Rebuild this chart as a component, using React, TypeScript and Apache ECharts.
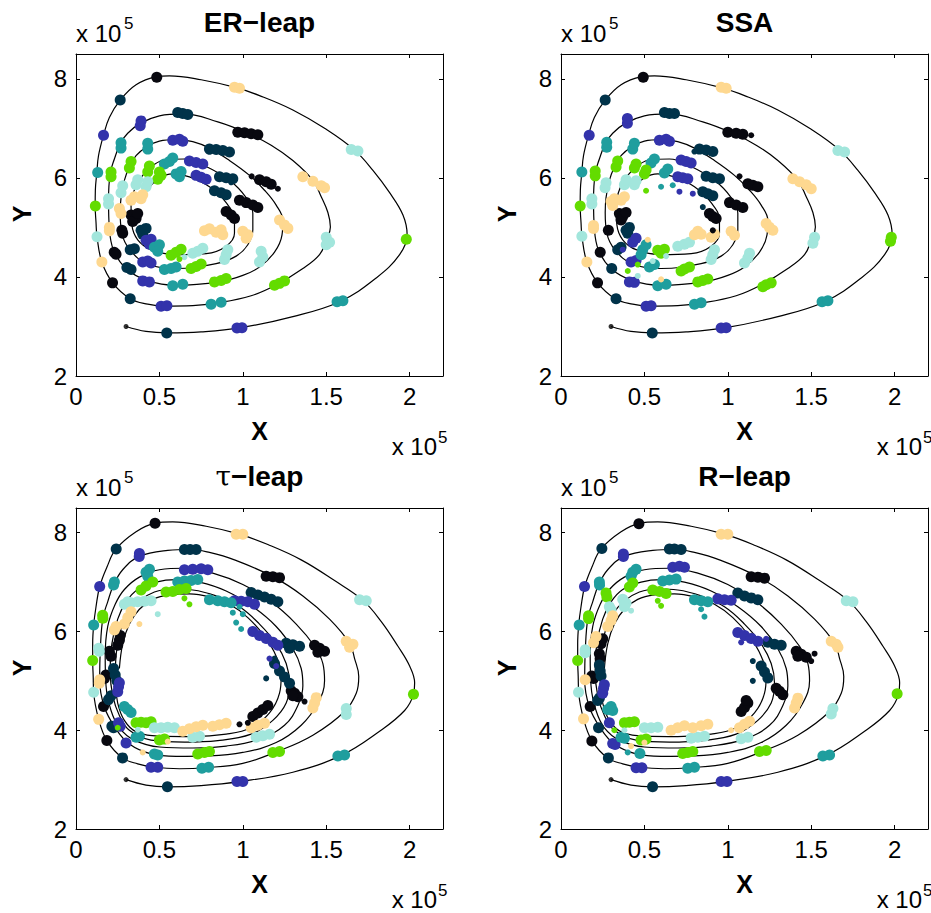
import React, { useEffect, useRef } from "react";
import * as echarts from "echarts";

// ---------- shared style constants ----------
const FONT = "'Liberation Sans', Arial, Helvetica, sans-serif";
const PALETTE = ["#08080f", "#00334a", "#3333ab", "#1f9e9e", "#63dc00", "#a2e6dc", "#fed890"];

// ---------- axis ticks ----------
const xTicks = [0, 0.5, 1, 1.5, 2];
const yTicks = [2, 4, 6, 8];
const xRange = [0, 2.2];
const yRange = [2, 8.5];

// ---------- start point of the trajectories ----------
const startPoint = [0.3, 3.0];

// ---------- deterministic spiral (ER-leap / SSA panels) ----------
const spiralTop = [
  [0.30, 3.00], [0.42, 2.90], [0.55, 2.87], [0.75, 2.89], [0.98, 2.97], [1.30, 3.20], [1.58, 3.50], [1.80, 3.98], [1.94, 4.45], [1.985, 4.85], [1.96, 5.25], [1.88, 5.70], [1.78, 6.15], [1.67, 6.56], [1.50, 6.98], [1.30, 7.37], [1.10, 7.66], [0.96, 7.82], [0.75, 7.98], [0.56, 8.06], [0.48, 8.04], [0.36, 7.88], [0.265, 7.57], [0.20, 7.22], [0.165, 6.86], [0.135, 6.45], [0.125, 6.11], [0.116, 5.75], [0.115, 5.43], [0.12, 5.10], [0.126, 4.81], [0.155, 4.30], [0.22, 3.88], [0.325, 3.56], [0.43, 3.45],
  [0.53, 3.41], [0.70, 3.42], [0.84, 3.47], [1.05, 3.62], [1.20, 3.84], [1.36, 4.17], [1.46, 4.45], [1.50, 4.74], [1.525, 5.01], [1.51, 5.30], [1.47, 5.62], [1.42, 5.95], [1.30, 6.35], [1.17, 6.66], [1.03, 6.90], [0.85, 7.13], [0.64, 7.29], [0.50, 7.25], [0.385, 7.10], [0.31, 6.90], [0.265, 6.69], [0.23, 6.38], [0.205, 6.09], [0.195, 5.55], [0.20, 4.98], [0.225, 4.54], [0.30, 4.17], [0.425, 3.93],
  [0.60, 3.83], [0.86, 3.90], [1.00, 4.03], [1.10, 4.20], [1.19, 4.50], [1.235, 4.85], [1.24, 5.14], [1.20, 5.45], [1.13, 5.75], [1.04, 6.05], [0.92, 6.35], [0.80, 6.60], [0.70, 6.73], [0.60, 6.77], [0.50, 6.74], [0.425, 6.63], [0.36, 6.45], [0.32, 6.22], [0.29, 5.95], [0.27, 5.60], [0.265, 5.30], [0.275, 4.88], [0.325, 4.54], [0.425, 4.27],
  [0.60, 4.17], [0.84, 4.27], [0.96, 4.42], [1.03, 4.65], [1.06, 4.95], [1.06, 5.28], [1.02, 5.60], [0.92, 5.95], [0.78, 6.23], [0.65, 6.38], [0.54, 6.37], [0.46, 6.25], [0.40, 6.05], [0.355, 5.80], [0.33, 5.45], [0.335, 5.05], [0.37, 4.75], [0.45, 4.55],
  [0.60, 4.45], [0.78, 4.47], [0.90, 4.62], [0.95, 4.88], [0.95, 5.15], [0.90, 5.50], [0.80, 5.82], [0.68, 6.02], [0.58, 6.08], [0.50, 6.00], [0.44, 5.80],
];

// ---------- deterministic spiral (tau-leap / R-leap panels) ----------
const spiralBottom = [
  [0.30, 3.00], [0.42, 2.89], [0.55, 2.855], [0.75, 2.88], [0.98, 2.96], [1.30, 3.15], [1.59, 3.49], [1.82, 3.98], [1.97, 4.40], [2.023, 4.73], [2.03, 4.96], [2.00, 5.30], [1.93, 5.70], [1.83, 6.20], [1.72, 6.63], [1.55, 7.03], [1.35, 7.45], [1.15, 7.76], [0.98, 7.97], [0.78, 8.13], [0.58, 8.22], [0.47, 8.19], [0.36, 8.02], [0.24, 7.67], [0.185, 7.30], [0.142, 6.91], [0.12, 6.50], [0.106, 6.13], [0.10, 5.75], [0.10, 5.41], [0.103, 5.10], [0.106, 4.77], [0.136, 4.22], [0.185, 3.79], [0.279, 3.44], [0.37, 3.32],
  [0.47, 3.25], [0.62, 3.22], [0.774, 3.24], [1.00, 3.33], [1.20, 3.56], [1.42, 3.90], [1.61, 4.38], [1.68, 4.75], [1.695, 5.09], [1.67, 5.45], [1.64, 5.76], [1.52, 6.25], [1.36, 6.72], [1.18, 7.11], [0.95, 7.45], [0.80, 7.60], [0.684, 7.66], [0.55, 7.64], [0.379, 7.52], [0.28, 7.25], [0.225, 6.94], [0.19, 6.60], [0.161, 6.27], [0.146, 5.64], [0.142, 5.02], [0.169, 4.48], [0.235, 4.05], [0.32, 3.72],
  [0.45, 3.52], [0.60, 3.47], [0.80, 3.48], [1.00, 3.55], [1.20, 3.75], [1.35, 4.10], [1.45, 4.55], [1.49, 5.00], [1.48, 5.35], [1.43, 5.70], [1.32, 6.15], [1.17, 6.60], [1.00, 6.95], [0.82, 7.18], [0.65, 7.28], [0.50, 7.25], [0.38, 7.10], [0.29, 6.85], [0.235, 6.55], [0.19, 6.10], [0.175, 5.50], [0.18, 4.90], [0.21, 4.40], [0.26, 4.05], [0.35, 3.80],
  [0.50, 3.66], [0.70, 3.64], [0.90, 3.68], [1.10, 3.82], [1.25, 4.10], [1.33, 4.50], [1.36, 4.90], [1.35, 5.25], [1.30, 5.65], [1.20, 6.10], [1.06, 6.50], [0.90, 6.82], [0.74, 7.00], [0.60, 7.05], [0.48, 7.00], [0.37, 6.85], [0.30, 6.60], [0.25, 6.25], [0.215, 5.75], [0.205, 5.20], [0.22, 4.70], [0.26, 4.30], [0.32, 4.00],
  [0.45, 3.80], [0.65, 3.76], [0.85, 3.79], [1.05, 3.92], [1.18, 4.20], [1.26, 4.55], [1.28, 4.95], [1.26, 5.35], [1.20, 5.75], [1.10, 6.15], [0.98, 6.50], [0.84, 6.72], [0.70, 6.84], [0.58, 6.86], [0.47, 6.80], [0.38, 6.62], [0.31, 6.35], [0.265, 6.00], [0.24, 5.50], [0.235, 5.00], [0.25, 4.55], [0.29, 4.20], [0.36, 3.97],
  [0.50, 3.88], [0.70, 3.87], [0.90, 3.92], [1.05, 4.05], [1.16, 4.35], [1.22, 4.75], [1.23, 5.10], [1.20, 5.50], [1.13, 5.90], [1.03, 6.28], [0.92, 6.55], [0.80, 6.70], [0.68, 6.76], [0.56, 6.74], [0.46, 6.65], [0.38, 6.45], [0.32, 6.15], [0.28, 5.75], [0.26, 5.25],
];

// ---------- ER-leap clusters ----------
const erBlack = [[0.484, 8.03], [0.219, 3.88], [0.97, 6.92], [1.01, 6.91], [1.05, 6.89], [1.09, 6.87], [0.229, 4.50], [0.24, 4.46], [1.10, 5.96], [1.14, 5.92], [1.17, 5.87], [0.275, 4.94], [0.28, 4.88], [0.98, 5.55], [1.02, 5.50], [1.06, 5.45], [1.09, 5.40], [0.33, 5.25], [0.36, 5.18], [0.34, 5.12], [0.37, 5.28], [0.90, 5.32], [0.93, 5.25], [0.95, 5.18]];
const erNavy = [[0.544, 2.87], [0.265, 7.57], [0.325, 3.56], [0.61, 7.32], [0.64, 7.30], [0.67, 7.28], [0.305, 4.19], [0.33, 4.15], [0.80, 6.58], [0.84, 6.57], [0.88, 6.55], [0.92, 6.52], [0.325, 4.55], [0.35, 4.57], [0.86, 6.02], [0.90, 6.00], [0.94, 5.98], [0.39, 4.94], [0.42, 4.98], [0.40, 4.86], [0.83, 5.74], [0.87, 5.70], [0.90, 5.66]];
const erIndigo = [[0.965, 2.97], [0.995, 2.975], [0.165, 6.86], [0.51, 3.41], [0.545, 3.42], [0.385, 7.05], [0.39, 7.15], [0.40, 3.92], [0.44, 3.90], [0.58, 6.76], [0.62, 6.78], [0.64, 6.74], [0.40, 4.30], [0.43, 4.32], [0.45, 4.28], [0.68, 6.34], [0.72, 6.31], [0.76, 6.28], [0.42, 4.74], [0.45, 4.76], [0.44, 4.66], [0.72, 6.05], [0.75, 6.01], [0.78, 5.97]];
const erTeal = [[1.565, 3.50], [1.60, 3.52], [0.13, 6.11], [0.81, 3.45], [0.87, 3.49], [0.27, 6.60], [0.27, 6.71], [0.58, 3.82], [0.64, 3.85], [0.43, 6.58], [0.43, 6.70], [0.53, 4.15], [0.57, 4.17], [0.60, 4.20], [0.53, 6.28], [0.56, 6.33], [0.58, 6.40], [0.47, 4.60], [0.50, 4.65], [0.49, 4.52], [0.60, 6.08], [0.63, 6.13], [0.62, 6.02]];
const erGreen = [[1.98, 4.76], [0.116, 5.43], [1.19, 3.83], [1.22, 3.87], [1.25, 3.92], [0.21, 6.02], [0.21, 6.12], [0.83, 3.90], [0.87, 3.93], [0.90, 3.97], [0.32, 6.20], [0.33, 6.33], [0.69, 4.17], [0.72, 4.21], [0.75, 4.26], [0.43, 6.12], [0.44, 6.24], [0.57, 4.44], [0.60, 4.50], [0.63, 4.56], [0.49, 5.97], [0.51, 6.05], [0.50, 6.12]];
const erAqua = [[1.65, 6.57], [1.69, 6.54], [0.126, 4.81], [1.50, 4.65], [1.50, 4.80], [1.52, 4.70], [0.195, 5.47], [0.195, 5.58], [1.10, 4.30], [1.12, 4.40], [1.11, 4.52], [0.27, 5.70], [0.28, 5.84], [0.89, 4.35], [0.90, 4.45], [0.91, 4.55], [0.36, 5.86], [0.37, 5.96], [0.73, 4.52], [0.76, 4.58], [0.70, 4.48], [0.42, 5.82], [0.43, 5.92]];
const erTan = [[0.95, 7.83], [0.98, 7.81], [0.155, 4.30], [1.36, 6.02], [1.42, 5.93], [1.47, 5.84], [1.49, 5.80], [0.20, 4.93], [0.20, 5.00], [1.22, 5.15], [1.25, 5.05], [1.27, 4.98], [0.26, 5.38], [0.27, 5.28], [1.00, 4.92], [1.03, 4.85], [1.02, 4.78], [0.33, 5.55], [0.35, 5.62], [0.84, 4.90], [0.87, 4.95], [0.88, 4.85], [0.39, 5.58], [0.40, 5.66], [0.77, 4.93], [0.80, 4.97]];
const erStray = [[1.053, 6.03, 0], [1.21, 5.78, 0], [0.80, 6.53, 1], [0.93, 5.91, 1], [0.65, 4.40, 5], [0.62, 4.36, 4]];

// ---------- SSA clusters ----------
const ssaBlack = [[0.493, 8.03], [0.219, 3.88], [1.00, 6.92], [1.05, 6.90], [1.09, 6.88], [0.235, 4.50], [1.12, 5.88], [1.15, 5.85], [1.18, 5.82], [0.284, 4.94], [1.01, 5.50], [1.05, 5.45], [1.09, 5.40], [0.35, 5.28], [0.37, 5.22], [0.36, 5.15], [0.39, 5.30], [0.89, 5.28], [0.91, 5.22], [0.93, 5.18]];
const ssaNavy = [[0.547, 2.87], [0.265, 7.57], [0.33, 3.56], [0.62, 7.32], [0.65, 7.30], [0.68, 7.30], [0.304, 4.17], [0.83, 6.58], [0.87, 6.56], [0.91, 6.53], [0.34, 4.55], [0.36, 4.60], [0.87, 6.03], [0.91, 6.00], [0.95, 5.98], [0.39, 4.94], [0.41, 5.00], [0.40, 4.88], [0.85, 5.72], [0.88, 5.68], [0.91, 5.64]];
const ssaIndigo = [[0.96, 2.97], [0.99, 2.975], [0.169, 6.86], [0.51, 3.41], [0.54, 3.42], [0.398, 7.10], [0.398, 7.20], [0.41, 3.90], [0.44, 3.89], [0.59, 6.76], [0.63, 6.78], [0.65, 6.74], [0.42, 4.30], [0.45, 4.33], [0.72, 6.36], [0.75, 6.33], [0.78, 6.30], [0.43, 4.70], [0.45, 4.78], [0.70, 6.02], [0.73, 6.00], [0.76, 5.98]];
const ssaTeal = [[1.565, 3.50], [1.60, 3.52], [0.125, 6.12], [0.80, 3.45], [0.84, 3.48], [0.274, 6.62], [0.274, 6.72], [0.58, 3.82], [0.63, 3.85], [0.43, 6.58], [0.44, 6.70], [0.49, 4.55], [0.51, 4.65], [0.48, 4.45], [0.54, 6.30], [0.56, 6.38], [0.53, 4.20], [0.56, 4.25], [0.62, 6.10], [0.64, 6.18]];
const ssaGreen = [[1.975, 4.72], [1.98, 4.80], [0.115, 5.43], [1.21, 3.80], [1.23, 3.84], [1.26, 3.88], [0.205, 6.04], [0.205, 6.14], [0.82, 3.90], [0.85, 3.93], [0.88, 3.96], [0.33, 6.22], [0.34, 6.34], [0.58, 4.54], [0.62, 4.56], [0.60, 4.48], [0.74, 4.16], [0.77, 4.20], [0.72, 4.12], [0.44, 6.20], [0.45, 6.28], [0.50, 6.08], [0.51, 6.16]];
const ssaAqua = [[1.66, 6.55], [1.70, 6.52], [0.125, 4.82], [1.51, 4.68], [1.52, 4.80], [0.185, 5.47], [0.185, 5.58], [1.10, 4.28], [1.12, 4.38], [1.13, 4.48], [0.264, 5.80], [0.27, 5.90], [0.90, 4.35], [0.91, 4.45], [0.92, 4.55], [0.70, 4.62], [0.74, 4.66], [0.77, 4.70], [0.38, 5.86], [0.39, 5.96], [0.44, 5.86], [0.45, 5.94]];
const ssaTan = [[0.96, 7.83], [0.99, 7.81], [0.155, 4.30], [1.39, 5.98], [1.43, 5.92], [1.47, 5.86], [1.50, 5.78], [0.195, 4.98], [0.195, 5.04], [1.23, 5.08], [1.25, 5.00], [1.27, 4.94], [0.30, 5.52], [0.32, 5.58], [0.31, 5.44], [1.02, 4.92], [1.04, 4.84], [0.80, 4.85], [0.82, 4.92], [0.84, 4.86], [0.90, 4.80], [0.92, 4.86], [0.36, 5.55], [0.38, 5.62]];
const ssaStray = [[1.07, 6.03, 0], [1.14, 6.86, 0], [0.91, 4.94, 0], [0.80, 6.53, 1], [0.85, 5.41, 1], [0.71, 5.72, 2], [0.79, 5.68, 2], [0.37, 4.55, 2], [0.60, 5.82, 3], [0.67, 5.85, 3], [0.51, 5.74, 4], [0.40, 4.12, 4], [0.46, 4.25, 4], [0.55, 4.32, 5], [0.63, 4.42, 5], [0.46, 4.02, 5], [0.60, 3.95, 6], [0.52, 4.75, 6]];

// ---------- tau-leap clusters ----------
const tauBlack = [[0.474, 8.19], [0.185, 3.79], [1.14, 7.12], [1.18, 7.11], [1.22, 7.09], [0.165, 4.48], [1.43, 5.72], [1.46, 5.66], [1.49, 5.60], [1.45, 5.58], [0.17, 5.05], [0.18, 5.12], [1.29, 4.80], [1.31, 4.75], [1.33, 4.68], [1.30, 4.70], [0.21, 5.50], [0.20, 5.60], [1.06, 4.28], [1.09, 4.35], [1.12, 4.42], [1.15, 4.50], [0.25, 5.72], [0.26, 5.82], [0.265, 5.92]];
const tauNavy = [[0.548, 2.855], [0.241, 7.67], [0.279, 3.44], [0.65, 7.66], [0.684, 7.66], [0.72, 7.66], [0.225, 4.05], [0.215, 4.08], [1.05, 6.79], [1.09, 6.74], [1.13, 6.70], [1.17, 6.65], [1.21, 6.60], [0.195, 4.62], [0.21, 4.70], [1.26, 5.76], [1.30, 5.73], [1.34, 5.70], [1.28, 5.66], [0.225, 5.25], [0.235, 5.12], [0.245, 5.00], [1.19, 5.35], [1.22, 5.20], [1.25, 5.08], [1.28, 4.95]];
const tauIndigo = [[0.965, 2.96], [1.0, 2.96], [0.142, 6.91], [0.45, 3.25], [0.49, 3.25], [0.379, 7.52], [0.38, 7.58], [0.255, 4.15], [0.265, 4.08], [0.65, 7.25], [0.70, 7.26], [0.75, 7.27], [0.79, 7.25], [0.25, 4.78], [0.255, 4.88], [0.26, 4.96], [0.95, 6.62], [0.99, 6.61], [1.03, 6.60], [1.07, 6.55], [1.06, 6.00], [1.10, 5.92], [1.14, 5.86], [1.18, 5.78], [1.21, 5.72], [0.30, 3.74]];
const tauTeal = [[1.57, 3.48], [1.61, 3.50], [0.106, 6.13], [0.755, 3.23], [0.795, 3.25], [0.225, 6.94], [0.23, 7.0], [0.29, 4.48], [0.31, 4.42], [0.33, 4.36], [0.42, 7.20], [0.44, 7.26], [0.43, 7.12], [0.36, 3.86], [0.38, 3.88], [0.61, 7.00], [0.65, 7.02], [0.69, 7.03], [0.73, 7.05], [0.47, 3.52], [0.49, 3.50], [0.80, 6.64], [0.85, 6.62], [0.89, 6.60], [0.93, 6.58]];
const tauGreen = [[2.023, 4.73], [0.10, 5.41], [1.18, 3.55], [1.22, 3.57], [0.161, 6.27], [0.16, 6.33], [0.73, 3.52], [0.77, 3.55], [0.80, 3.57], [0.39, 6.84], [0.42, 6.92], [0.46, 7.00], [0.36, 4.15], [0.39, 4.16], [0.42, 4.15], [0.45, 4.17], [0.54, 6.80], [0.58, 6.81], [0.62, 6.85], [0.66, 6.87], [0.50, 3.80], [0.53, 3.82]];
const tauAqua = [[1.70, 6.64], [1.74, 6.62], [0.106, 4.77], [1.62, 4.32], [1.62, 4.44], [0.136, 5.66], [0.14, 5.60], [1.08, 3.86], [1.12, 3.89], [1.16, 3.92], [0.29, 6.55], [0.31, 6.60], [0.33, 6.58], [0.47, 4.05], [0.51, 4.05], [0.55, 4.06], [0.59, 4.05], [0.37, 6.60], [0.41, 6.61], [0.45, 6.62], [0.70, 3.86], [0.74, 3.88]];
const tauTan = [[0.96, 7.97], [1.00, 7.97], [0.136, 4.22], [1.62, 5.80], [1.66, 5.74], [1.64, 5.68], [0.142, 5.02], [0.14, 4.95], [1.42, 4.45], [1.43, 4.55], [1.44, 4.66], [0.23, 6.03], [0.24, 6.10], [1.05, 4.05], [1.09, 4.10], [1.13, 4.14], [0.29, 6.15], [0.31, 6.28], [0.33, 6.40], [0.64, 3.98], [0.68, 4.03], [0.72, 4.07], [0.76, 4.10], [0.82, 4.08], [0.86, 4.11], [0.90, 4.14]];
const tauStray = [[0.98, 4.12, 0], [1.03, 4.15, 0], [1.37, 4.58, 0], [1.19, 5.45, 1], [1.14, 5.05, 1], [1.16, 5.45, 2], [1.20, 5.30, 2], [0.98, 6.50, 3], [1.00, 6.35, 3], [0.99, 6.05, 3], [0.96, 6.18, 3], [0.94, 6.38, 3], [0.65, 6.67, 4], [0.68, 6.55, 4], [0.25, 4.05, 4], [0.49, 6.35, 5], [0.37, 4.01, 5], [0.38, 6.15, 6], [0.40, 3.55, 6], [0.55, 3.77, 6]];

// ---------- R-leap clusters ----------
const rBlack = [[0.467, 8.18], [0.185, 3.78], [1.14, 7.11], [1.18, 7.10], [1.22, 7.08], [0.175, 4.48], [1.41, 5.60], [1.44, 5.54], [1.47, 5.48], [1.42, 5.50], [0.185, 5.10], [0.195, 5.05], [1.29, 4.85], [1.31, 4.79], [1.33, 4.72], [0.23, 5.55], [0.235, 5.45], [1.08, 4.38], [1.10, 4.46], [1.12, 4.55], [1.11, 4.60], [0.24, 5.75], [0.25, 5.85]];
const rNavy = [[0.549, 2.855], [0.245, 7.68], [0.284, 3.44], [0.65, 7.67], [0.68, 7.67], [0.72, 7.66], [0.225, 4.05], [1.06, 6.78], [1.10, 6.72], [1.14, 6.68], [1.18, 6.64], [0.22, 4.60], [0.23, 4.65], [1.24, 5.78], [1.28, 5.74], [1.32, 5.72], [0.23, 5.32], [0.235, 5.20], [0.24, 5.10], [1.20, 5.30], [1.22, 5.18], [1.24, 5.06]];
const rIndigo = [[0.96, 2.96], [0.995, 2.96], [0.141, 6.91], [0.45, 3.24], [0.485, 3.24], [0.374, 7.52], [0.374, 7.57], [0.324, 3.71], [0.31, 3.73], [0.67, 7.30], [0.71, 7.32], [0.74, 7.30], [0.25, 4.75], [0.255, 4.85], [0.26, 4.92], [0.94, 6.66], [0.98, 6.64], [1.02, 6.63], [1.06, 5.98], [1.10, 5.92], [1.14, 5.86], [1.18, 5.80], [0.29, 4.15]];
const rTeal = [[1.57, 3.48], [1.61, 3.50], [0.109, 6.13], [0.76, 3.23], [0.80, 3.25], [0.231, 6.94], [0.23, 7.0], [0.473, 3.53], [0.42, 7.12], [0.43, 7.20], [0.45, 7.26], [0.28, 4.42], [0.30, 4.48], [0.31, 4.40], [0.61, 7.02], [0.65, 7.04], [0.69, 7.06], [0.36, 3.86], [0.38, 3.84], [0.80, 6.64], [0.84, 6.62], [0.88, 6.60]];
const rGreen = [[2.015, 4.74], [0.10, 5.41], [1.19, 3.57], [1.23, 3.59], [0.165, 6.32], [0.165, 6.26], [0.76, 3.55], [0.79, 3.57], [0.73, 3.53], [0.27, 6.78], [0.275, 6.70], [0.38, 4.15], [0.41, 4.16], [0.44, 4.17], [0.41, 6.90], [0.43, 6.98], [0.55, 6.84], [0.59, 6.81], [0.63, 6.77], [0.48, 3.80], [0.51, 3.82]];
const rAqua = [[1.71, 6.62], [1.75, 6.60], [0.105, 4.77], [1.62, 4.33], [1.63, 4.44], [0.145, 5.63], [0.145, 5.57], [1.08, 3.83], [1.12, 3.86], [0.29, 6.50], [0.30, 6.44], [0.50, 4.05], [0.54, 4.05], [0.58, 4.06], [0.37, 6.65], [0.39, 6.57], [0.38, 6.50], [0.78, 3.84], [0.82, 3.86], [0.86, 3.88]];
const rTan = [[0.96, 7.97], [1.00, 7.97], [0.135, 4.23], [1.62, 5.80], [1.65, 5.74], [1.66, 5.68], [0.145, 5.02], [1.40, 4.45], [1.41, 4.55], [1.42, 4.65], [0.195, 5.77], [0.21, 5.90], [1.07, 4.05], [1.10, 4.12], [1.13, 4.18], [0.28, 6.10], [0.30, 6.22], [0.31, 6.32], [0.66, 4.00], [0.70, 4.05], [0.74, 4.09], [0.79, 4.05], [0.84, 4.09], [0.88, 4.12]];
const rStray = [[1.52, 5.55, 0], [1.50, 5.40, 0], [1.15, 5.40, 1], [1.15, 5.00, 1], [1.08, 5.78, 2], [1.23, 5.85, 2], [0.84, 6.45, 3], [0.86, 6.30, 3], [0.40, 3.55, 3], [0.58, 6.62, 4], [0.60, 6.52, 4], [0.32, 4.00, 4], [0.42, 6.42, 5], [0.38, 4.00, 5], [0.42, 3.68, 6], [0.50, 3.75, 6], [1.02, 4.00, 6]];

// ---------- panel definitions ----------
const panelTitles = ["ER−leap", "SSA", "{t|τ}−leap", "R−leap"];
const panelSpirals = [spiralTop, spiralTop, spiralBottom, spiralBottom];
const panelClusters = [
  [erBlack, erNavy, erIndigo, erTeal, erGreen, erAqua, erTan],
  [ssaBlack, ssaNavy, ssaIndigo, ssaTeal, ssaGreen, ssaAqua, ssaTan],
  [tauBlack, tauNavy, tauIndigo, tauTeal, tauGreen, tauAqua, tauTan],
  [rBlack, rNavy, rIndigo, rTeal, rGreen, rAqua, rTan],
];
const panelStray = [erStray, ssaStray, tauStray, rStray];

const GRIDS = [
  { left: 76, top: 54, width: 367, height: 322 },
  { left: 561, top: 54, width: 367, height: 322 },
  { left: 76, top: 508, width: 367, height: 321 },
  { left: 561, top: 508, width: 367, height: 321 },
];

function buildOption() {
  const xAxis: any[] = [];
  const yAxis: any[] = [];
  const series: any[] = [];
  const graphic: any[] = [];

  GRIDS.forEach((g, i) => {
    const baseAxisLine = { show: true, onZero: false, lineStyle: { color: "#000", width: 1 } };
    const tick = { show: true, inside: true, length: 4, lineStyle: { color: "#000", width: 1 } };
    xAxis.push({
      type: "value", gridIndex: i, min: xRange[0], max: xRange[1], interval: xTicks[1] - xTicks[0],
      position: "bottom", axisLine: baseAxisLine, axisTick: tick, splitLine: { show: false },
      axisLabel: { show: true, fontSize: 24, color: "#000", fontFamily: FONT, margin: 8, showMaxLabel: false },
    });
    xAxis.push({
      type: "value", gridIndex: i, min: xRange[0], max: xRange[1], interval: xTicks[1] - xTicks[0],
      position: "top", axisLine: baseAxisLine, axisTick: tick, splitLine: { show: false }, axisLabel: { show: false },
    });
    yAxis.push({
      type: "value", gridIndex: i, min: yRange[0], max: yRange[1], interval: yTicks[1] - yTicks[0],
      position: "left", axisLine: baseAxisLine, axisTick: tick, splitLine: { show: false },
      axisLabel: { show: true, fontSize: 24, color: "#000", fontFamily: FONT, margin: 9, showMaxLabel: false },
    });
    yAxis.push({
      type: "value", gridIndex: i, min: yRange[0], max: yRange[1], interval: yTicks[1] - yTicks[0],
      position: "right", axisLine: baseAxisLine, axisTick: tick, splitLine: { show: false }, axisLabel: { show: false },
    });

    const xi = i * 2;
    const yi = i * 2;
    series.push({
      type: "line", xAxisIndex: xi, yAxisIndex: yi, data: panelSpirals[i], smooth: 0.4,
      showSymbol: false, symbol: "none", lineStyle: { color: "#000", width: 1.2 }, z: 2, silent: true,
    });
    series.push({
      type: "scatter", xAxisIndex: xi, yAxisIndex: yi, data: [startPoint], symbolSize: 5,
      itemStyle: { color: "#000" }, z: 3, silent: true,
    });
    panelClusters[i].forEach((pts, c) => {
      series.push({
        type: "scatter", xAxisIndex: xi, yAxisIndex: yi, data: pts, symbolSize: 11,
        itemStyle: { color: PALETTE[c], opacity: 1 }, z: 4, silent: true,
      });
    });
    series.push({
      type: "scatter", xAxisIndex: xi, yAxisIndex: yi, data: panelStray[i], symbolSize: 6,
      itemStyle: { color: (p: any) => PALETTE[p.data[2]], opacity: 1 }, z: 4, silent: true,
    });

    const cx = g.left + g.width / 2;
    const right = g.left + g.width;
    const bottom = g.top + g.height;
    graphic.push({
      type: "text", x: cx, y: g.top - 32, z: 10,
      style: {
        text: panelTitles[i], fill: "#000", font: `bold 28px ${FONT}`, align: "center", verticalAlign: "middle",
        rich: { t: { fontSize: 28, fontWeight: "normal", fontFamily: "'DejaVu Serif', serif", fill: "#000" } },
      },
    });
    graphic.push({ type: "text", x: g.left, y: g.top - 21, z: 10, style: { text: "x 10", fill: "#000", font: `24px ${FONT}`, align: "left", verticalAlign: "middle" } });
    graphic.push({ type: "text", x: g.left + 48, y: g.top - 31, z: 10, style: { text: "5", fill: "#000", font: `17px ${FONT}`, align: "left", verticalAlign: "middle" } });
    graphic.push({ type: "text", x: right - 6, y: bottom + 70, z: 10, style: { text: "x 10", fill: "#000", font: `24px ${FONT}`, align: "right", verticalAlign: "middle" } });
    graphic.push({ type: "text", x: right - 5, y: bottom + 61, z: 10, style: { text: "5", fill: "#000", font: `17px ${FONT}`, align: "left", verticalAlign: "middle" } });
    graphic.push({ type: "text", x: cx, y: bottom + 55, z: 10, style: { text: "X", fill: "#000", font: `bold 25px ${FONT}`, align: "center", verticalAlign: "middle" } });
    graphic.push({ type: "text", x: g.left - 54, y: g.top + 160, rotation: Math.PI / 2, z: 10, style: { text: "Y", fill: "#000", font: `bold 25px ${FONT}`, align: "center", verticalAlign: "middle" } });
  });

  return {
    animation: false,
    backgroundColor: "#fff",
    grid: GRIDS.map((g) => ({ ...g, containLabel: false, show: false })),
    xAxis,
    yAxis,
    series,
    graphic,
  };
}

export default function App() {
  const ref = useRef<HTMLDivElement>(null);
  useEffect(() => {
    if (!ref.current) return;
    const chart = echarts.init(ref.current, null, { renderer: "svg" });
    chart.setOption(buildOption() as any);
    return () => chart.dispose();
  }, []);
  return (
    <div
      ref={ref}
      style={{ position: "absolute", left: 0, top: 0, width: 931, height: 913, background: "#fff" }}
    />
  );
}
